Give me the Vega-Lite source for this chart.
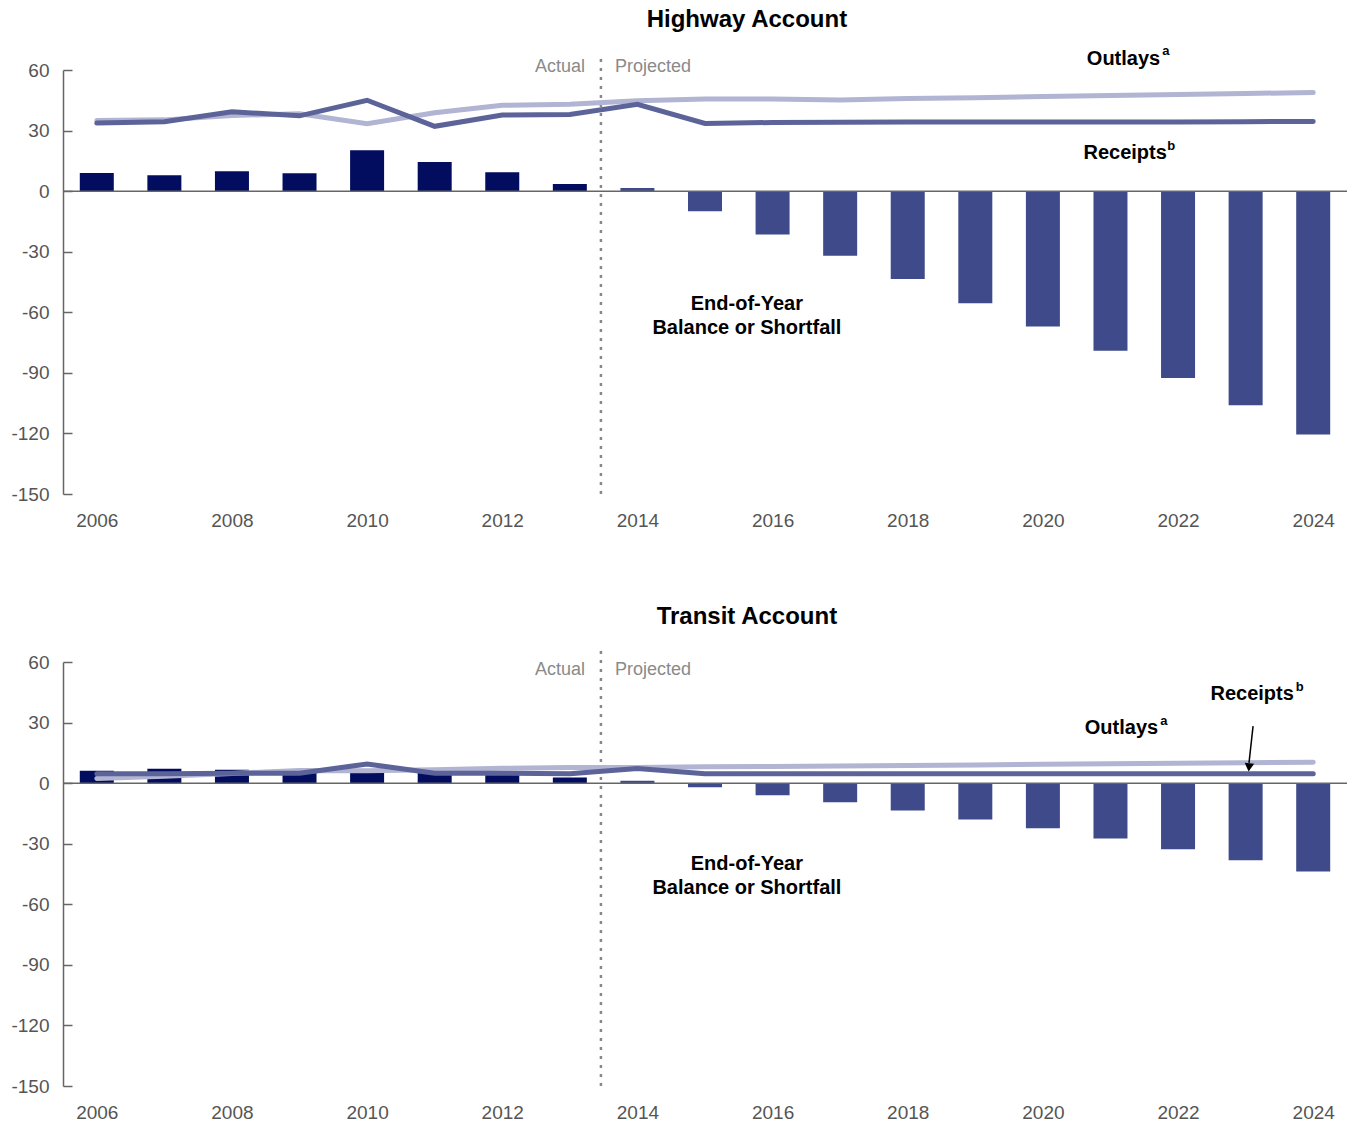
{
  "$schema": "https://vega.github.io/schema/vega-lite/v6.json",
  "padding": {"left": 10, "top": 7, "right": 0, "bottom": 0},
  "background": "white",
  "datasets": {
    "highway": [
      {"year": 2006, "balance": 9, "outlays": 35.0, "receipts": 33.7, "period": "Actual"},
      {"year": 2007, "balance": 7.9, "outlays": 35.3, "receipts": 34.4, "period": "Actual"},
      {"year": 2008, "balance": 9.9, "outlays": 37.5, "receipts": 39.3, "period": "Actual"},
      {"year": 2009, "balance": 8.9, "outlays": 38.3, "receipts": 37.3, "period": "Actual"},
      {"year": 2010, "balance": 20.3, "outlays": 33.4, "receipts": 45.0, "period": "Actual"},
      {"year": 2011, "balance": 14.4, "outlays": 38.8, "receipts": 32.1, "period": "Actual"},
      {"year": 2012, "balance": 9.4, "outlays": 42.5, "receipts": 37.7, "period": "Actual"},
      {"year": 2013, "balance": 3.5, "outlays": 43.0, "receipts": 38.0, "period": "Actual"},
      {"year": 2014, "balance": 1.5, "outlays": 44.8, "receipts": 43.0, "period": "Projected"},
      {"year": 2015, "balance": -10, "outlays": 45.6, "receipts": 33.5, "period": "Projected"},
      {"year": 2016, "balance": -21.5, "outlays": 45.6, "receipts": 34.0, "period": "Projected"},
      {"year": 2017, "balance": -32, "outlays": 45.2, "receipts": 34.1, "period": "Projected"},
      {"year": 2018, "balance": -43.5, "outlays": 45.9, "receipts": 34.2, "period": "Projected"},
      {"year": 2019, "balance": -55.5, "outlays": 46.3, "receipts": 34.3, "period": "Projected"},
      {"year": 2020, "balance": -67, "outlays": 46.9, "receipts": 34.3, "period": "Projected"},
      {"year": 2021, "balance": -79, "outlays": 47.4, "receipts": 34.3, "period": "Projected"},
      {"year": 2022, "balance": -92.5, "outlays": 47.9, "receipts": 34.3, "period": "Projected"},
      {"year": 2023, "balance": -106, "outlays": 48.4, "receipts": 34.4, "period": "Projected"},
      {"year": 2024, "balance": -120.5, "outlays": 48.8, "receipts": 34.5, "period": "Projected"}
    ],
    "transit": [
      {"year": 2006, "balance": 6.1, "outlays": 2.3, "receipts": 4.6, "period": "Actual"},
      {"year": 2007, "balance": 7.1, "outlays": 3.4, "receipts": 4.7, "period": "Actual"},
      {"year": 2008, "balance": 6.6, "outlays": 4.8, "receipts": 4.9, "period": "Actual"},
      {"year": 2009, "balance": 6.0, "outlays": 6.3, "receipts": 4.9, "period": "Actual"},
      {"year": 2010, "balance": 6.5, "outlays": 6.1, "receipts": 9.5, "period": "Actual"},
      {"year": 2011, "balance": 5.8, "outlays": 6.6, "receipts": 4.9, "period": "Actual"},
      {"year": 2012, "balance": 5.8, "outlays": 7.4, "receipts": 4.9, "period": "Actual"},
      {"year": 2013, "balance": 2.8, "outlays": 7.7, "receipts": 4.6, "period": "Actual"},
      {"year": 2014, "balance": 1.2, "outlays": 7.7, "receipts": 7.2, "period": "Projected"},
      {"year": 2015, "balance": -2, "outlays": 8.1, "receipts": 4.7, "period": "Projected"},
      {"year": 2016, "balance": -6, "outlays": 8.3, "receipts": 4.7, "period": "Projected"},
      {"year": 2017, "balance": -9.5, "outlays": 8.5, "receipts": 4.7, "period": "Projected"},
      {"year": 2018, "balance": -13.5, "outlays": 8.7, "receipts": 4.7, "period": "Projected"},
      {"year": 2019, "balance": -18, "outlays": 9.0, "receipts": 4.7, "period": "Projected"},
      {"year": 2020, "balance": -22.4, "outlays": 9.3, "receipts": 4.7, "period": "Projected"},
      {"year": 2021, "balance": -27.4, "outlays": 9.6, "receipts": 4.6, "period": "Projected"},
      {"year": 2022, "balance": -32.8, "outlays": 9.9, "receipts": 4.6, "period": "Projected"},
      {"year": 2023, "balance": -38.2, "outlays": 10.1, "receipts": 4.6, "period": "Projected"},
      {"year": 2024, "balance": -43.7, "outlays": 10.4, "receipts": 4.6, "period": "Projected"}
    ]
  },
  "bounds": "flush",
  "spacing": 168,
  "vconcat": [
    {
      "width": 1284,
      "height": 424,
      "layer": [
        {
          "data": {"name": "highway"},
          "mark": {"type": "bar", "width": 34},
          "encoding": {
            "x": {"field": "year", "type": "quantitative", "scale": {"domain": [2005.5, 2024.5], "nice": false, "zero": false, "padding": 0},
                  "axis": {"values": [2006, 2008, 2010, 2012, 2014, 2016, 2018, 2020, 2022, 2024], "format": "d", "title": null, "domain": false, "ticks": false, "grid": false, "labelPadding": 17, "labelFontSize": 19, "labelFont": "Liberation Sans", "labelColor": "#555555", "labelFlush": false}},
            "y": {"field": "balance", "type": "quantitative", "scale": {"domain": [-150, 60], "nice": false, "zero": false},
                  "axis": {"values": [-150, -120, -90, -60, -30, 0, 30, 60], "labelExpr": "datum.value < 0 ? '-' + abs(datum.value) : '' + datum.value", "title": null, "grid": false, "domainColor": "#666666", "domainWidth": 1.5, "tickColor": "#666666", "tickWidth": 1.5, "tickSize": -9, "labelPadding": 23, "labelFontSize": 19, "labelFont": "Liberation Sans", "labelColor": "#555555"}},
            "color": {"field": "period", "type": "nominal", "scale": {"domain": ["Actual", "Projected"], "range": ["#020d5f", "#3f4a8a"]}, "legend": null}
          }
        },
        {"data": {"values": [{"v": 0}]}, "mark": {"type": "rule", "color": "#666666", "strokeWidth": 1.5}, "encoding": {"y": {"datum": 0}, "x": {"datum": 2005.5}, "x2": {"datum": 2024.5}}},
        {"data": {"values": [{"v": 0}]}, "mark": {"type": "rule", "color": "#888888", "strokeWidth": 2.5, "strokeDash": [3, 6], "clip": false},
         "encoding": {"x": {"datum": 2013.46}, "y": {"datum": -150}, "y2": {"datum": 67}}},
        {"data": {"name": "highway"}, "mark": {"type": "line", "color": "#b1b4d2", "strokeWidth": 5, "strokeCap": "round"}, "encoding": {"x": {"field": "year", "type": "quantitative"}, "y": {"field": "outlays", "type": "quantitative"}}},
        {"data": {"name": "highway"}, "mark": {"type": "line", "color": "#5c6399", "strokeWidth": 5, "strokeCap": "round"}, "encoding": {"x": {"field": "year", "type": "quantitative"}, "y": {"field": "receipts", "type": "quantitative"}}},
        {"data": {"values": [{"v": 0}]}, "mark": {"type": "text", "text": "Highway Account", "align": "center", "baseline": "middle", "fontSize": 24, "fontWeight": "bold", "font": "Liberation Sans", "color": "#000000"},
         "encoding": {"x": {"datum": 2015.62}, "y": {"datum": 84.8}}},
        {"data": {"values": [{"v": 0}]}, "mark": {"type": "text", "text": "Actual", "align": "right", "baseline": "middle", "dx": -16, "fontSize": 18, "font": "Liberation Sans", "color": "#8a8a8a"},
         "encoding": {"x": {"datum": 2013.46}, "y": {"datum": 61.6}}},
        {"data": {"values": [{"v": 0}]}, "mark": {"type": "text", "text": "Projected", "align": "left", "baseline": "middle", "dx": 14, "fontSize": 18, "font": "Liberation Sans", "color": "#8a8a8a"},
         "encoding": {"x": {"datum": 2013.46}, "y": {"datum": 61.6}}},
        {"data": {"values": [{"v": 0}]}, "mark": {"type": "text", "text": "Outlays", "align": "left", "baseline": "middle", "fontSize": 20, "fontWeight": "bold", "font": "Liberation Sans", "color": "#000000"},
         "encoding": {"x": {"datum": 2020.65}, "y": {"datum": 65.3}}},
        {"data": {"values": [{"v": 0}]}, "mark": {"type": "text", "text": "a", "align": "center", "baseline": "middle", "fontSize": 13, "fontWeight": "bold", "font": "Liberation Sans", "color": "#000000"},
         "encoding": {"x": {"datum": 2021.82}, "y": {"datum": 69.3}}},
        {"data": {"values": [{"v": 0}]}, "mark": {"type": "text", "text": "Receipts", "align": "left", "baseline": "middle", "fontSize": 20, "fontWeight": "bold", "font": "Liberation Sans", "color": "#000000"},
         "encoding": {"x": {"datum": 2020.6}, "y": {"datum": 19.0}}},
        {"data": {"values": [{"v": 0}]}, "mark": {"type": "text", "text": "b", "align": "center", "baseline": "middle", "fontSize": 13, "fontWeight": "bold", "font": "Liberation Sans", "color": "#000000"},
         "encoding": {"x": {"datum": 2021.9}, "y": {"datum": 22.6}}},
        {"data": {"values": [{"v": 0}]}, "mark": {"type": "text", "text": ["End-of-Year", "Balance or Shortfall"], "align": "center", "baseline": "middle", "lineHeight": 24, "fontSize": 20, "fontWeight": "bold", "font": "Liberation Sans", "color": "#000000"},
         "encoding": {"x": {"datum": 2015.62}, "y": {"datum": -55.7}}}
      ]
    },
    {
      "width": 1284,
      "height": 424,
      "layer": [
        {
          "data": {"name": "transit"},
          "mark": {"type": "bar", "width": 34},
          "encoding": {
            "x": {"field": "year", "type": "quantitative", "scale": {"domain": [2005.5, 2024.5], "nice": false, "zero": false, "padding": 0},
                  "axis": {"values": [2006, 2008, 2010, 2012, 2014, 2016, 2018, 2020, 2022, 2024], "format": "d", "title": null, "domain": false, "ticks": false, "grid": false, "labelPadding": 17, "labelFontSize": 19, "labelFont": "Liberation Sans", "labelColor": "#555555", "labelFlush": false}},
            "y": {"field": "balance", "type": "quantitative", "scale": {"domain": [-150, 60], "nice": false, "zero": false},
                  "axis": {"values": [-150, -120, -90, -60, -30, 0, 30, 60], "labelExpr": "datum.value < 0 ? '-' + abs(datum.value) : '' + datum.value", "title": null, "grid": false, "domainColor": "#666666", "domainWidth": 1.5, "tickColor": "#666666", "tickWidth": 1.5, "tickSize": -9, "labelPadding": 23, "labelFontSize": 19, "labelFont": "Liberation Sans", "labelColor": "#555555"}},
            "color": {"field": "period", "type": "nominal", "scale": {"domain": ["Actual", "Projected"], "range": ["#020d5f", "#3f4a8a"]}, "legend": null}
          }
        },
        {"data": {"values": [{"v": 0}]}, "mark": {"type": "rule", "color": "#666666", "strokeWidth": 1.5}, "encoding": {"y": {"datum": 0}, "x": {"datum": 2005.5}, "x2": {"datum": 2024.5}}},
        {"data": {"values": [{"v": 0}]}, "mark": {"type": "rule", "color": "#888888", "strokeWidth": 2.5, "strokeDash": [3, 6], "clip": false},
         "encoding": {"x": {"datum": 2013.46}, "y": {"datum": -150}, "y2": {"datum": 66.5}}},
        {"data": {"name": "transit"}, "mark": {"type": "line", "color": "#b1b4d2", "strokeWidth": 5, "strokeCap": "round"}, "encoding": {"x": {"field": "year", "type": "quantitative"}, "y": {"field": "outlays", "type": "quantitative"}}},
        {"data": {"name": "transit"}, "mark": {"type": "line", "color": "#5c6399", "strokeWidth": 5, "strokeCap": "round"}, "encoding": {"x": {"field": "year", "type": "quantitative"}, "y": {"field": "receipts", "type": "quantitative"}}},
        {"data": {"values": [{"v": 0}]}, "mark": {"type": "text", "text": "Transit Account", "align": "center", "baseline": "middle", "fontSize": 24, "fontWeight": "bold", "font": "Liberation Sans", "color": "#000000"},
         "encoding": {"x": {"datum": 2015.62}, "y": {"datum": 82.3}}},
        {"data": {"values": [{"v": 0}]}, "mark": {"type": "text", "text": "Actual", "align": "right", "baseline": "middle", "dx": -16, "fontSize": 18, "font": "Liberation Sans", "color": "#8a8a8a"},
         "encoding": {"x": {"datum": 2013.46}, "y": {"datum": 56.0}}},
        {"data": {"values": [{"v": 0}]}, "mark": {"type": "text", "text": "Projected", "align": "left", "baseline": "middle", "dx": 14, "fontSize": 18, "font": "Liberation Sans", "color": "#8a8a8a"},
         "encoding": {"x": {"datum": 2013.46}, "y": {"datum": 56.0}}},
        {"data": {"values": [{"v": 0}]}, "mark": {"type": "text", "text": "Receipts", "align": "left", "baseline": "middle", "fontSize": 20, "fontWeight": "bold", "font": "Liberation Sans", "color": "#000000"},
         "encoding": {"x": {"datum": 2022.48}, "y": {"datum": 44.0}}},
        {"data": {"values": [{"v": 0}]}, "mark": {"type": "text", "text": "b", "align": "center", "baseline": "middle", "fontSize": 13, "fontWeight": "bold", "font": "Liberation Sans", "color": "#000000"},
         "encoding": {"x": {"datum": 2023.8}, "y": {"datum": 47.8}}},
        {"data": {"values": [{"v": 0}]}, "mark": {"type": "text", "text": "Outlays", "align": "left", "baseline": "middle", "fontSize": 20, "fontWeight": "bold", "font": "Liberation Sans", "color": "#000000"},
         "encoding": {"x": {"datum": 2020.62}, "y": {"datum": 27.2}}},
        {"data": {"values": [{"v": 0}]}, "mark": {"type": "text", "text": "a", "align": "center", "baseline": "middle", "fontSize": 13, "fontWeight": "bold", "font": "Liberation Sans", "color": "#000000"},
         "encoding": {"x": {"datum": 2021.79}, "y": {"datum": 31.0}}},
        {"data": {"values": [{"v": 0}]}, "mark": {"type": "rule", "color": "#000000", "strokeWidth": 1.5},
         "encoding": {"x": {"datum": 2023.11}, "x2": {"datum": 2023.05}, "y": {"datum": 28.2}, "y2": {"datum": 10}}},
        {"data": {"values": [{"v": 0}]}, "mark": {"type": "point", "shape": "triangle-down", "filled": true, "color": "#000000", "size": 90, "opacity": 1, "angle": 6},
         "encoding": {"x": {"datum": 2023.05}, "y": {"datum": 7.8}}},
        {"data": {"values": [{"v": 0}]}, "mark": {"type": "text", "text": ["End-of-Year", "Balance or Shortfall"], "align": "center", "baseline": "middle", "lineHeight": 24, "fontSize": 20, "fontWeight": "bold", "font": "Liberation Sans", "color": "#000000"},
         "encoding": {"x": {"datum": 2015.62}, "y": {"datum": -40.2}}}
      ]
    }
  ],
  "config": {
    "view": {"stroke": null}
  }
}
